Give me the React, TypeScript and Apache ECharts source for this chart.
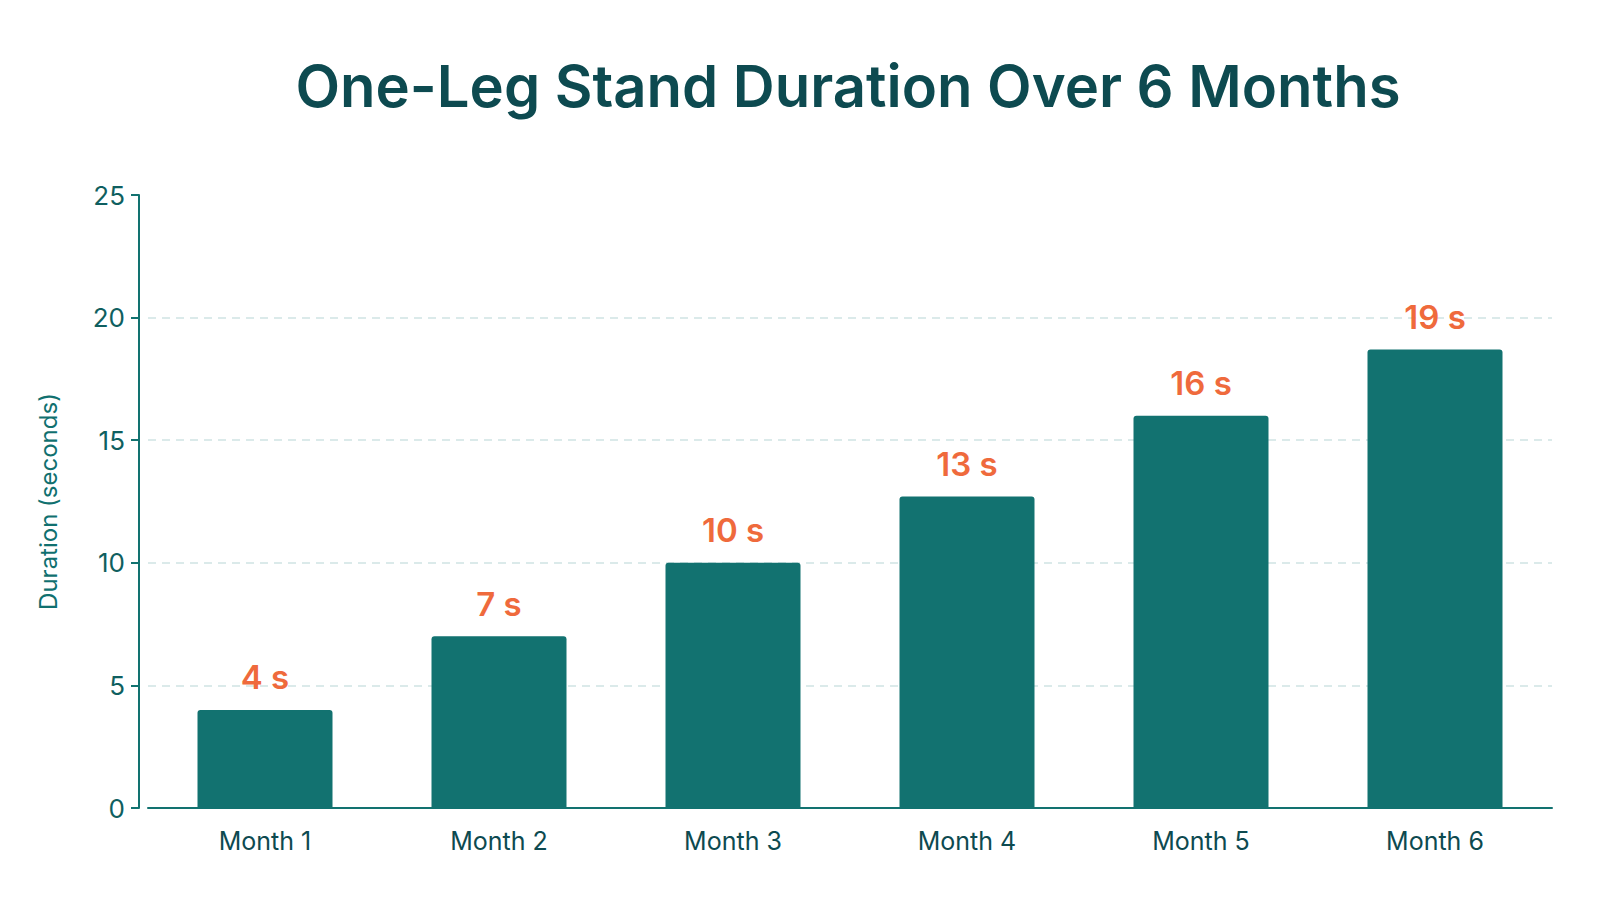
import { useEffect, useRef } from 'react'
import * as echarts from 'echarts'

const months = ['Month 1', 'Month 2', 'Month 3', 'Month 4', 'Month 5', 'Month 6']
const durations = [4, 7, 10, 12.7, 16, 18.7]
const durationLabels = ['4 s', '7 s', '10 s', '13 s', '16 s', '19 s']

const teal = '#127270'
const darkTeal = '#0d4a50'
const textTeal = '#0f5f60'
const font = 'Inter'

export default function App() {
  const chartRef = useRef<HTMLDivElement | null>(null)

  useEffect(() => {
    if (!chartRef.current) {
      return
    }

    const chart = echarts.init(chartRef.current, undefined, { renderer: 'svg' })

    chart.setOption({
      animation: false,
      backgroundColor: '#ffffff',
      textStyle: { fontFamily: font },
      title: {
        text: 'One-Leg Stand Duration Over 6 Months',
        left: 843,
        top: 52,
        textAlign: 'center',
        textStyle: {
          fontFamily: font,
          fontSize: 58,
          fontWeight: 600,
          color: darkTeal,
        },
      },
      grid: {
        left: 148,
        right: 47,
        top: 195,
        bottom: 92,
      },
      xAxis: {
        type: 'category',
        data: months,
        axisLine: {
          lineStyle: { color: teal, width: 2 },
        },
        axisTick: { show: false },
        axisLabel: {
          color: darkTeal,
          fontSize: 25,
          margin: 20,
        },
      },
      yAxis: {
        type: 'value',
        min: 0,
        max: 25,
        interval: 5,
        offset: 9,
        name: 'Duration (seconds)',
        nameLocation: 'middle',
        nameGap: 79,
        nameTextStyle: {
          color: '#10706f',
          fontSize: 24,
        },
        axisLine: {
          show: true,
          lineStyle: { color: teal, width: 2 },
        },
        axisTick: {
          show: true,
          length: 8,
          lineStyle: { color: teal, width: 2 },
        },
        axisLabel: {
          color: textTeal,
          fontSize: 26,
          margin: 14,
        },
        splitLine: {
          show: true,
          lineStyle: {
            color: ['transparent', '#cfe4e3', '#cfe4e3', '#cfe4e3', '#cfe4e3', 'transparent'],
            type: [8, 6],
            width: 1.5,
          },
        },
      },
      series: [
        {
          type: 'bar',
          data: durations,
          barWidth: 135,
          itemStyle: {
            color: teal,
            borderRadius: [3, 3, 0, 0],
          },
          label: {
            show: true,
            position: 'top',
            distance: 16,
            formatter: (p: { dataIndex: number }) => durationLabels[p.dataIndex],
            color: '#ef6a3c',
            fontSize: 33,
            fontWeight: 600,
          },
        },
      ],
    })

    return () => {
      chart.dispose()
    }
  }, [])

  return (
    <div
      ref={chartRef}
      style={{ position: 'fixed', left: 0, top: 0, width: 1599, height: 900 }}
    />
  )
}
